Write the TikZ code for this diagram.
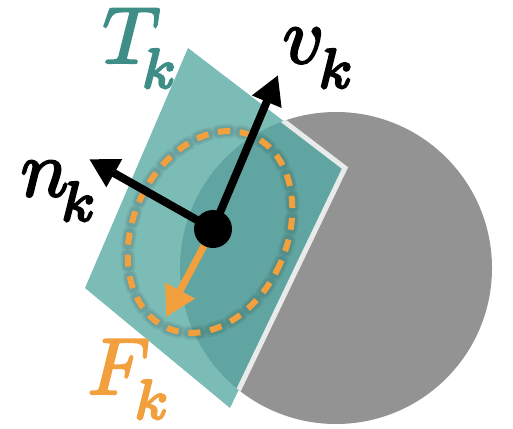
\documentclass[tikz,border=0pt]{standalone}
\usetikzlibrary{arrows.meta}
\definecolor{planeL}{HTML}{7CBCB7}
\definecolor{planeD}{HTML}{60A5A1}
\definecolor{sphere}{HTML}{939393}
\definecolor{orng}{HTML}{F2A03D}
\definecolor{tealtxt}{HTML}{3E8E87}
\definecolor{rim}{HTML}{E9EBEA}
\newcommand{\lowk}[2]{\mkern#1mu\lower1.6pt\hbox{$\scriptstyle #2$}}
\newcommand{\heavy}[1]{\special{pdf:code q 2 Tr 0.28 w}#1\special{pdf:code Q}}
\begin{document}
\begin{tikzpicture}[x=1pt,y=-1pt,
  lbl/.style={inner sep=0pt, anchor=base west, scale=8},
  vec/.style={line width=8pt, -{Triangle[length=29pt,width=30pt]}},
  fvec/.style={orng, line width=7pt, -{Triangle[length=30pt,width=32pt]}},
  dashring/.style={orng, line width=6pt, dash pattern=on 12pt off 10pt},
  halo/.style={black, opacity=0.07, line width=#1, line cap=round, dash pattern=on 12pt off 10pt}
]
\useasboundingbox (0,0) rectangle (513,428);
% sphere
\coordinate (S) at (336,268);
\fill[sphere] (S) circle[radius=156];
% tangent plane
\coordinate (P1) at (188,48);
\coordinate (P2) at (345,168);
\coordinate (P3) at (230,408);
\coordinate (P4) at (85,288);
\fill[planeL] (P1)--(P2)--(P3)--(P4)--cycle;
\begin{scope}
  \clip (P1)--(P2)--(P3)--(P4)--cycle;
  \fill[planeD] (S) circle[radius=156];
\end{scope}
\begin{scope}
  \clip (S) circle[radius=156];
  \draw[rim, line width=5pt] (P1)--(P2)--(P3);
\end{scope}
% dashed ring
\begin{scope}[shift={(210,232)}, rotate=-24]
  \draw[halo=14pt] (0,0) ellipse[x radius=77, y radius=105];
  \draw[halo=10pt] (0,0) ellipse[x radius=77, y radius=105];
  \draw[dashring] (0,0) ellipse[x radius=77, y radius=105];
\end{scope}
% vectors
\coordinate (C) at (213,229);
\coordinate (V) at (278,75);
\coordinate (N) at (89,159);
\coordinate (F) at (166,317);
\draw[fvec] (C) -- (F);
\draw[vec] (C) -- (V);
\draw[vec] (C) -- (N);
\node[circle, fill=black, minimum size=38pt, inner sep=0pt] (O) at (C) {};
% labels
\node[lbl, text=tealtxt] (Tk) at (101,63) {\heavy{$T_{\lowk{-2.25}{k}}$}};
\node[lbl] (vk) at (281,63) {\heavy{$v_{\lowk{-1}{k}}$}};
\node[lbl] (nk) at (19,196) {\heavy{$n_{\lowk{-2.25}{k}}$}};
\node[lbl, text=orng] (Fk) at (86,394) {\heavy{$F_{\lowk{-1.5}{k}}$}};
\end{tikzpicture}
\end{document}
